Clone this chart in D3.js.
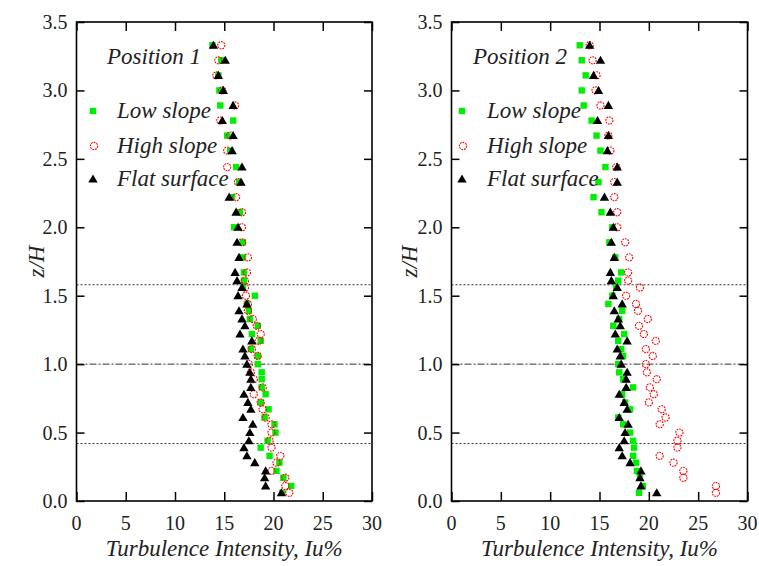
<!DOCTYPE html>
<html>
<head>
    <title>Turbulence Intensity Profiles</title>
    <script src="https://d3js.org/d3.v7.min.js"></script>
    <style>
        body { margin: 0; background: #fff; }
        svg { display: block; }
        .tick-label { font-family: "Liberation Serif", "Times New Roman", serif; font-size: 20px; fill: #222; }
        .axis-title { font-family: "Liberation Serif", "Times New Roman", serif; font-size: 23px; font-style: italic; fill: #222; }
        .legend-text { font-family: "Liberation Serif", "Times New Roman", serif; font-size: 23px; font-style: italic; fill: #222; }
    </style>
</head>
<body>
    <svg width="759" height="566"></svg>
    <script>
        // heights z/H (top to bottom), shared by every profile
        var zLevels = [3.33, 3.22, 3.11, 3.0, 2.89, 2.78, 2.67, 2.56, 2.44, 2.33, 2.22, 2.11, 2.0, 1.89, 1.78, 1.67,
            1.61, 1.56, 1.5, 1.44, 1.39, 1.33, 1.28, 1.22, 1.17, 1.11, 1.06, 1.0, 0.94, 0.89, 0.83, 0.78, 0.72,
            0.67, 0.61, 0.56, 0.5, 0.44, 0.39, 0.33, 0.28, 0.22, 0.17, 0.11, 0.06];

        // Position 1
        var p1Low = [13.8, 14.7, 14.4, 14.5, 14.6, 15.9, 15.3, 15.6, 16.2, 16.5, 15.8, 16.6, 16.0, 16.9, 16.9, 17.0,
            17.0, 16.9, 18.1, 17.3, 17.5, 17.6, 18.4, 17.8, 18.7, 17.7, 18.4, 18.4, 18.8, 18.8, 18.8, 19.2, 18.7,
            19.5, 19.1, 20.1, 20.2, 19.4, 18.7, 19.6, 20.6, 20.3, 21.0, 21.8, 20.9];
        var p1High = [14.7, 14.4, 14.2, 14.8, 16.1, 14.6, 15.6, 15.3, 15.3, 16.4, 16.2, 16.8, 16.8, 16.8, 17.4, 17.3,
            17.1, 17.1, 17.2, 17.4, 17.4, 17.9, 18.3, 18.7, 18.5, 17.8, 18.4, 17.5, 17.7, 18.0, 18.9, 18.0, 18.7,
            18.9, 19.2, 19.8, 19.8, 19.6, 19.8, 20.7, 20.3, 19.8, 21.2, 21.2, 21.6];
        var p1Flat = [13.9, 15.1, 14.4, 14.9, 15.9, 14.8, 15.9, 15.8, 16.8, 16.7, 15.5, 16.2, 16.4, 16.3, 16.5, 16.1,
            16.3, 16.8, 16.4, 17.3, 16.5, 16.8, 17.1, 16.6, 17.8, 16.9, 17.1, 17.3, 17.6, 17.7, 17.7, 17.0, 17.4,
            17.7, 16.9, 17.9, 17.6, 17.5, 17.0, 17.3, 18.1, 19.2, 19.1, 19.2, 20.8];

        // Position 2
        var p2Low = [13.0, 13.2, 13.6, 13.2, 13.4, 14.2, 14.7, 15.1, 15.6, 14.9, 14.4, 15.2, 16.3, 16.0, 16.6, 17.2,
            16.9, 16.7, 16.3, 15.9, 17.3, 17.0, 16.4, 17.5, 16.9, 17.2, 17.4, 16.9, 17.0, 17.4, 18.4, 17.3, 17.6,
            18.1, 16.9, 17.4, 18.1, 18.4, 18.5, 18.4, 18.7, 18.8, 19.1, 19.4, 19.0];
        var p2High = [14.0, 14.3, 14.7, 14.6, 15.1, 16.0, 15.9, 16.1, 16.7, 16.5, 16.5, 16.8, 16.8, 17.6, 18.0, 17.9,
            17.9, 19.1, 17.7, 18.7, 18.9, 19.9, 19.0, 19.5, 20.7, 19.7, 20.4, 19.7, 19.8, 20.8, 20.1, 20.5, 20.0,
            21.3, 21.7, 21.1, 23.1, 22.9, 22.9, 21.1, 22.5, 23.5, 23.5, 26.8, 26.8];
        var p2Flat = [14.0, 15.1, 14.4, 14.9, 15.9, 14.8, 15.9, 15.8, 16.8, 16.8, 15.5, 16.1, 16.4, 16.2, 16.5, 16.1,
            16.2, 16.8, 16.4, 17.3, 16.5, 16.9, 17.1, 16.6, 17.8, 16.8, 17.1, 17.2, 17.8, 17.7, 17.7, 17.0, 17.5,
            17.8, 17.0, 17.9, 17.6, 17.5, 17.0, 17.3, 18.1, 19.2, 19.1, 19.2, 20.8];

        var xTicks = [0, 5, 10, 15, 20, 25, 30];
        var yTicks = [0, 0.5, 1.0, 1.5, 2.0, 2.5, 3.0, 3.5];
        var refLines = [1.58, 1.0, 0.42];   // dotted, dash-dot, dotted
        var seriesNames = ["Low slope", "High slope", "Flat surface"];

        var svg = d3.select("svg");
        svg.append("rect").attr("width", 759).attr("height", 566).attr("fill", "#fff");

        var panels = [
            {title: "Position 1", left: 76.5, right: 372, low: p1Low, high: p1High, flat: p1Flat, legX: 93, textX: 117, titleX: 107, zLabelX: 44},
            {title: "Position 2", left: 451.5, right: 747.5, low: p2Low, high: p2High, flat: p2Flat, legX: 462, textX: 487, titleX: 473, zLabelX: 417}
        ];

        var plotTop = 22, plotBottom = 501;
        var y = d3.scaleLinear().domain([0, 3.5]).range([plotBottom, plotTop]);

        var triangle = d3.symbol().type(d3.symbolTriangle).size(38);

        function drawSquare(g, cx, cy) {
            g.append("rect")
                .attr("x", cx - 3.2).attr("y", cy - 3.2)
                .attr("width", 6.4).attr("height", 6.4)
                .attr("fill", "#00ee00");
        }
        function drawCircle(g, cx, cy) {
            g.append("circle")
                .attr("cx", cx).attr("cy", cy).attr("r", 3.6)
                .attr("fill", "none")
                .attr("stroke", "#ff0000")
                .attr("stroke-width", 1.1)
                .attr("stroke-dasharray", "1.8,0.9");
        }
        function drawTriangle(g, cx, cy) {
            g.append("path")
                .attr("transform", "translate(" + cx + "," + (cy + 0.8) + ")")
                .attr("d", triangle())
                .attr("fill", "#000");
        }

        panels.forEach(function(p) {
            var x = d3.scaleLinear().domain([0, 30]).range([p.left, p.right]);
            var g = svg.append("g");

            // reference lines
            refLines.forEach(function(v, i) {
                g.append("line")
                    .attr("x1", p.left).attr("x2", p.right)
                    .attr("y1", y(v)).attr("y2", y(v))
                    .attr("stroke", "#333")
                    .attr("stroke-width", 1)
                    .attr("stroke-dasharray", i == 1 ? "7,2,2,2" : "2,2");
            });

            // data: green squares, then red circles, then triangles on top
            zLevels.forEach(function(z, i) { drawSquare(g, x(p.low[i]), y(z)); });
            zLevels.forEach(function(z, i) { drawCircle(g, x(p.high[i]), y(z)); });
            zLevels.forEach(function(z, i) { drawTriangle(g, x(p.flat[i]), y(z)); });

            // frame
            g.append("rect")
                .attr("x", p.left).attr("y", plotTop)
                .attr("width", p.right - p.left).attr("height", plotBottom - plotTop)
                .attr("fill", "none").attr("stroke", "#000").attr("stroke-width", 1.6);

            // inward ticks on all four sides
            function styleTicks(a) { a.select(".domain").remove(); a.selectAll("line").attr("stroke-width", 1.5); }
            g.append("g").attr("transform", "translate(0," + plotBottom + ")")
                .call(d3.axisTop(x).tickValues(xTicks).tickSize(9).tickFormat(""))
                .call(styleTicks);
            g.append("g").attr("transform", "translate(0," + plotTop + ")")
                .call(d3.axisBottom(x).tickValues(xTicks).tickSize(9).tickFormat(""))
                .call(styleTicks);
            g.append("g").attr("transform", "translate(" + p.left + ",0)")
                .call(d3.axisRight(y).tickValues(yTicks).tickSize(8).tickFormat(""))
                .call(styleTicks);
            g.append("g").attr("transform", "translate(" + p.right + ",0)")
                .call(d3.axisLeft(y).tickValues(yTicks).tickSize(8).tickFormat(""))
                .call(styleTicks);

            // tick labels
            g.selectAll(".xl").data(xTicks).enter().append("text")
                .attr("class", "tick-label")
                .attr("x", function(d) { return x(d); })
                .attr("y", 530)
                .attr("text-anchor", "middle")
                .text(function(d) { return d; });
            g.selectAll(".yl").data(yTicks).enter().append("text")
                .attr("class", "tick-label")
                .attr("x", p.left - 9)
                .attr("y", function(d) { return y(d) + 7; })
                .attr("text-anchor", "end")
                .text(function(d) { return d3.format(".1f")(d); });

            // axis titles
            g.append("text")
                .attr("class", "axis-title")
                .attr("x", (p.left + p.right) / 2)
                .attr("y", 556)
                .attr("text-anchor", "middle")
                .text("Turbulence Intensity, Iu%");
            g.append("text")
                .attr("class", "axis-title")
                .attr("transform", "translate(" + p.zLabelX + "," + ((plotTop + plotBottom) / 2) + ") rotate(-90)")
                .attr("text-anchor", "middle")
                .text("z/H");

            // legend
            g.append("text").attr("class", "legend-text")
                .attr("x", p.titleX).attr("y", 64)
                .text(p.title);
            var legY = [111, 146, 179];
            drawSquare(g, p.legX, legY[0]);
            drawCircle(g, p.legX + 1, legY[1]);
            drawTriangle(g, p.legX, legY[2]);
            seriesNames.forEach(function(name, i) {
                g.append("text").attr("class", "legend-text")
                    .attr("x", p.textX).attr("y", legY[i] + 7)
                    .text(name);
            });
        });
    </script>
</body>
</html>
